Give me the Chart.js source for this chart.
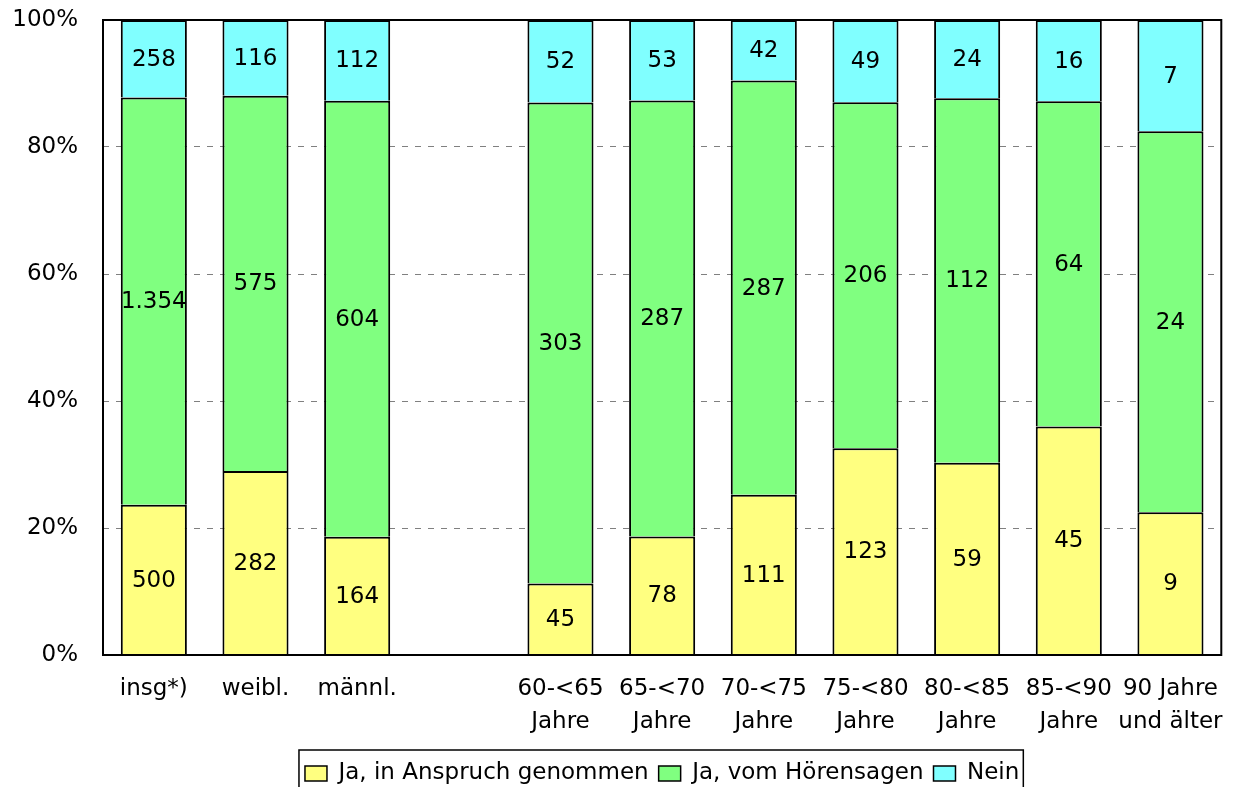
<!DOCTYPE html>
<html>
<head>
<meta charset="utf-8">
<script src="https://cdn.jsdelivr.net/npm/chart.js@4.4.1/dist/chart.umd.min.js"></script>
<style>
  html, body { margin: 0; padding: 0; background: #fff; }
  #wrap { width: 1233px; height: 787px; }
</style>
</head>
<body>
<div id="wrap"><canvas id="chart"></canvas></div>
<script>
const categories = ['insg*)', 'weibl.', 'männl.', '', ['60-<65', 'Jahre'], ['65-<70', 'Jahre'],
  ['70-<75', 'Jahre'], ['75-<80', 'Jahre'], ['80-<85', 'Jahre'], ['85-<90', 'Jahre'], ['90 Jahre', 'und älter']];
const inAnspruch = [500, 282, 164, null, 45, 78, 111, 123, 59, 45, 9];
const hoerensagen = [1354, 575, 604, null, 303, 287, 287, 206, 112, 64, 24];
const nein = [258, 116, 112, null, 52, 53, 42, 49, 24, 16, 7];
const seriesNames = ['Ja, in Anspruch genommen', 'Ja, vom Hörensagen', 'Nein'];
const yTicks = [0, 20, 40, 60, 80, 100];

const counts = [inAnspruch, hoerensagen, nein];
const totals = inAnspruch.map((v, i) => v == null ? null : v + hoerensagen[i] + nein[i]);
const toPct = arr => arr.map((v, i) => v == null ? null : v / totals[i] * 100);

const fmt = n => String(n).replace(/\B(?=(\d{3})+(?!\d))/g, '.');

Chart.defaults.font.family = 'DejaVu Sans';
Chart.defaults.font.size = 23;
Chart.defaults.color = '#000';

const valueLabels = {
  id: 'valueLabels',
  afterDatasetsDraw(chart) {
    const ctx = chart.ctx;
    ctx.save();
    ctx.font = '23px "DejaVu Sans"';
    ctx.fillStyle = '#000';
    ctx.textAlign = 'center';
    ctx.textBaseline = 'middle';
    chart.data.datasets.forEach((ds, di) => {
      const meta = chart.getDatasetMeta(di);
      meta.data.forEach((bar, i) => {
        const v = counts[di][i];
        if (v == null) return;
        ctx.fillText(fmt(v), bar.x, (bar.y + bar.base) / 2 + 1);
      });
    });
    ctx.restore();
  }
};

const frame = {
  id: 'frame',
  afterDraw(chart) {
    const { ctx, chartArea: a } = chart;
    ctx.save();
    ctx.strokeStyle = '#000';
    ctx.lineWidth = 2;
    ctx.strokeRect(a.left, a.top, a.right - a.left, a.bottom - a.top);
    // box round legend
    const boxes = chart.legend.legendHitBoxes;
    if (boxes && boxes.length) {
      const l = Math.min(...boxes.map(b => b.left)) - 6;
      const r = Math.max(...boxes.map(b => b.left + b.width)) + 4;
      const t = Math.min(...boxes.map(b => b.top)) - 12;
      ctx.lineWidth = 1.5;
      ctx.strokeRect(l, t, r - l, chart.height - t + 5);
    }
    ctx.restore();
  }
};

const colors = ['#FFFF80', '#80FF80', '#80FFFF'];

new Chart(document.getElementById('chart'), {
  type: 'bar',
  data: {
    labels: categories,
    datasets: [inAnspruch, hoerensagen, nein].map((arr, k) => ({
      label: seriesNames[k],
      data: toPct(arr),
      backgroundColor: colors[k],
      borderColor: '#000',
      borderWidth: { top: 2, bottom: 0, left: 2, right: 2 },
      borderSkipped: false,
      inflateAmount: 0,
      barPercentage: 0.65,
      categoryPercentage: 1
    }))
  },
  options: {
    responsive: true,
    maintainAspectRatio: false,
    animation: false,
    layout: { padding: { top: 20, right: 10, left: 0, bottom: -8 } },
    plugins: {
      legend: {
        position: 'bottom',
        fullSize: false,
        labels: {
          boxWidth: 22,
          boxHeight: 15,
          padding: 10,
          font: { size: 23 }
        }
      },
      tooltip: { enabled: false }
    },
    scales: {
      x: {
        stacked: true,
        grid: { display: false },
        border: { display: false },
        ticks: { maxRotation: 0, autoSkip: false, padding: 10, font: { size: 23, lineHeight: 1.43 } },
        afterFit(scale) { scale.height = 97; }
      },
      y: {
        stacked: true,
        min: 0,
        max: 100,
        afterBuildTicks(scale) { scale.ticks = yTicks.map(v => ({ value: v })); },
        grid: {
          drawTicks: false,
          color: c => (c.tick && (c.tick.value === 0 || c.tick.value === 100)) ? 'rgba(0,0,0,0)' : '#808080',
          lineWidth: 1
        },
        border: { display: false, dash: [6, 7] },
        ticks: { padding: 25, callback: v => v + '%', font: { size: 23 } },
        afterFit(scale) { scale.width = 103; scale.paddingTop = 0; scale.paddingBottom = 0; }
      }
    }
  },
  plugins: [valueLabels, frame]
});
</script>
</body>
</html>
